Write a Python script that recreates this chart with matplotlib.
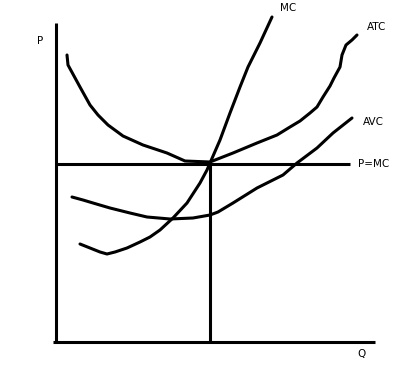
import numpy as np
import matplotlib
matplotlib.use("Agg")
import matplotlib.pyplot as plt

# Hand-traced cost curves (quantity, cost) in chart units
atc_q = [11, 12, 18, 24, 34, 42, 52, 67, 87, 111, 129, 154, 177, 201, 221, 234,
         244, 254, 261, 267, 274, 278, 284, 286, 290, 296, 301]
atc_p = [287, 277, 266, 255, 237, 227, 217, 206, 197, 189, 181, 180, 189, 199, 207, 215,
         221, 229, 235, 245, 256, 264, 275, 287, 297, 302, 307]

mc_q = [24, 34, 44, 51, 59, 71, 84, 94, 104, 117, 131, 144, 151, 154, 164, 174,
        184, 192, 199, 204, 210, 216]
mc_p = [98, 94, 90, 88, 90, 94, 100, 105, 112, 124, 139, 159, 172, 179, 202, 229,
        255, 275, 289, 299, 312, 325]

avc_q = [16, 27, 37, 54, 74, 91, 114, 137, 154, 162, 177, 201, 227, 241, 261, 277, 296]
avc_p = [145, 142, 139, 134, 129, 125, 123, 124, 127, 130, 139, 154, 167, 179, 194, 209, 224]

price = 178
q_star = 154
q_max = 319
p_max = 319
price_end = 294

lw = 2.2

fig = plt.figure(figsize=(4.06, 3.76), dpi=100)
ax = fig.add_axes([0, 0, 1, 1])
ax.set_xlim(-56, 350)
ax.set_ylim(-34, 342)
ax.axis('off')

# axes
ax.plot([0, 0], [0, p_max], color='black', lw=lw, solid_capstyle='butt')
ax.plot([-3, q_max], [0, 0], color='black', lw=lw, solid_capstyle='butt')

# price line and quantity drop
ax.plot([0, price_end], [price, price], color='black', lw=lw, solid_capstyle='butt')
ax.plot([q_star, q_star], [0, price], color='black', lw=lw, solid_capstyle='butt')

# curves
for q, p in [(atc_q, atc_p), (mc_q, mc_p), (avc_q, avc_p)]:
    ax.plot(q, p, color='black', lw=lw, solid_capstyle='round', solid_joinstyle='round')

fs = 7.5
ax.text(-16, 301, 'P', fontsize=fs, ha='center', va='center')
ax.text(232, 334, 'MC', fontsize=fs, ha='center', va='center')
ax.text(321, 315, 'ATC', fontsize=fs, ha='center', va='center')
ax.text(317, 220, 'AVC', fontsize=fs, ha='center', va='center')
ax.text(302, price, 'P=MC', fontsize=fs, ha='left', va='center')
ax.text(306, -12, 'Q', fontsize=fs, ha='center', va='center')

fig.savefig('out.png', dpi=100)
